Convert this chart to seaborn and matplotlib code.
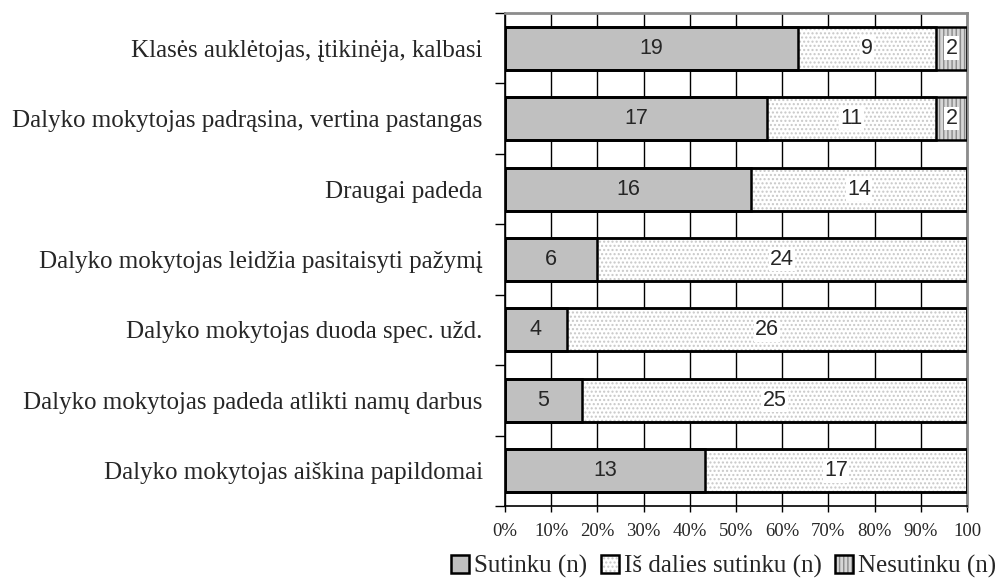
import matplotlib
matplotlib.use('Agg')
import numpy as np
import pandas as pd
import matplotlib.pyplot as plt
from matplotlib.patches import Patch
import seaborn as sns

#%% DATA

categories = ['Klasės auklėtojas, įtikinėja, kalbasi',
              'Dalyko mokytojas padrąsina, vertina pastangas',
              'Draugai padeda',
              'Dalyko mokytojas leidžia pasitaisyti pažymį',
              'Dalyko mokytojas duoda spec. užd.',
              'Dalyko mokytojas padeda atlikti namų darbus',
              'Dalyko mokytojas aiškina papildomai']
sutinku = [19, 17, 16, 6, 4, 5, 13]
is_dalies = [9, 11, 14, 24, 26, 25, 17]
nesutinku = [2, 2, 0, 0, 0, 0, 0]
series_names = ['Sutinku (n)', 'Iš dalies sutinku (n)', 'Nesutinku (n)']
tick_labels = ['0%', '10%', '20%', '30%', '40%', '50%', '60%', '70%', '80%', '90%', '100']

sns.set_style('white')
plt.rcParams['font.family'] = ['Liberation Serif', 'DejaVu Serif']
plt.rcParams['hatch.linewidth'] = 1.0

df = pd.DataFrame({'cat': categories, 's1': sutinku, 's2': is_dalies, 's3': nesutinku})
total = df[['s1', 's2', 's3']].sum(axis=1)
df['c1'] = df['s1'] / total * 100
df['c2'] = (df['s1'] + df['s2']) / total * 100
df['c3'] = (df['s1'] + df['s2'] + df['s3']) / total * 100

# fill colour, hatch, hatch colour
styles = {'c3': ('#d6d6d6', '||||', '#8a8a8a'),
          'c2': ('white', '....', '#c8c8c8'),
          'c1': ('#c0c0c0', None, '#c0c0c0')}

#%% PLOT

fig = plt.figure(figsize=(10, 5.82), dpi=100)
ax = fig.add_axes([0.505, 0.1306, 0.462, 0.847])

bw = 0.61
for col in ['c3', 'c2', 'c1']:
    fc, h, hc = styles[col]
    sns.barplot(data=df, x=col, y='cat', orient='h', color=fc, saturation=1,
                width=bw, edgecolor=hc, linewidth=0, hatch=h, ax=ax, zorder=2)
for col in ['c3', 'c2', 'c1']:
    sns.barplot(data=df, x=col, y='cat', orient='h', facecolor='none', saturation=1,
                width=bw, edgecolor='black', linewidth=1.8, ax=ax, zorder=3)

# value labels
for i, row in df.iterrows():
    left = 0
    for k, (s, c) in enumerate([('s1', 'c1'), ('s2', 'c2'), ('s3', 'c3')]):
        if row[s] > 0:
            bbox = None if k == 0 else dict(facecolor='white', edgecolor='none', pad=1)
            ax.text((left + row[c]) / 2, i, str(row[s]), ha='center', va='center',
                    fontsize=15.5, family='Liberation Sans', zorder=4, bbox=bbox)
        left = row[c]

ax.set_xlim(0, 100)
ax.set_ylim(len(categories) - 0.5, -0.5)
ax.set_xticks(np.arange(0, 101, 10))
ax.set_xticklabels(tick_labels, fontsize=13.5)
ax.set_yticks(np.arange(len(categories)))
ax.set_yticklabels(categories, fontsize=18)
ax.set_yticks(np.arange(-0.5, len(categories), 1), minor=True)
ax.tick_params(axis='y', which='major', length=0, pad=16)
ax.tick_params(axis='y', which='minor', length=7, width=1, color='black', left=True)
ax.tick_params(axis='x', length=4, width=1, color='black', bottom=True, pad=8)
ax.set_xlabel('')
ax.set_ylabel('')

ax.set_axisbelow(True)
ax.xaxis.grid(True, color='black', linewidth=1)
for side in ['left', 'bottom']:
    ax.spines[side].set_color('black')
    ax.spines[side].set_linewidth(1.2)
for side in ['top', 'right']:
    ax.spines[side].set_color('#8c8c8c')
    ax.spines[side].set_linewidth(2)

handles = []
for col in ['c1', 'c2', 'c3']:
    fc, h, hc = styles[col]
    handles.append((Patch(facecolor=fc, hatch=h, edgecolor=hc, linewidth=0),
                    Patch(facecolor='none', edgecolor='black', linewidth=1.8)))
fig.legend(handles, series_names, loc='lower right', bbox_to_anchor=(1.0, 0.0),
           ncol=3, frameon=False, fontsize=18, handlelength=0.72, handleheight=0.72,
           handletextpad=0.2, columnspacing=0.55, borderpad=0.05, borderaxespad=0.1)

fig.savefig('out.png', dpi=100)
